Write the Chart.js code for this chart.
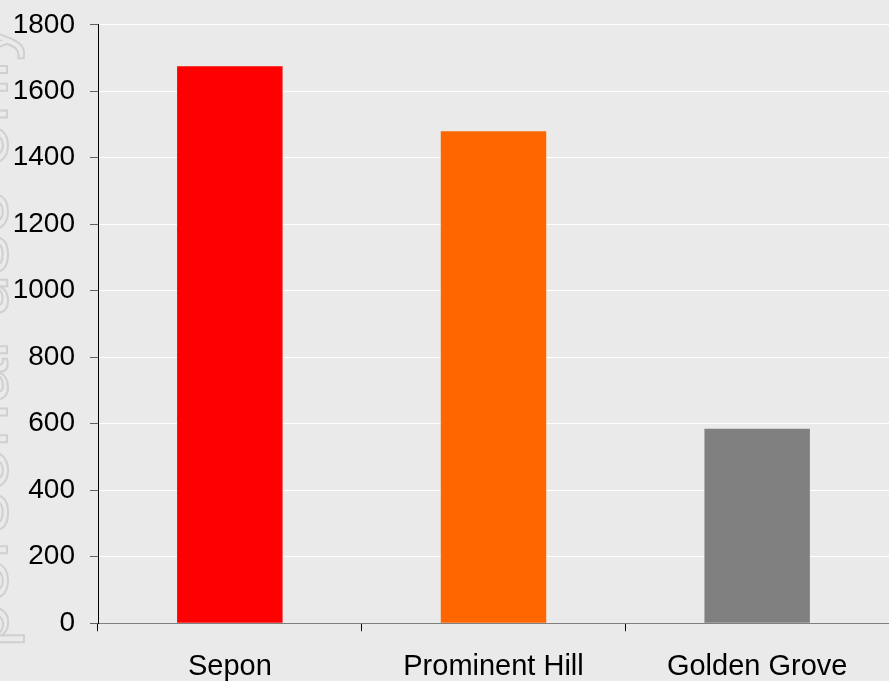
<!DOCTYPE html>
<html>
<head>
<meta charset="utf-8">
<script src="https://cdn.jsdelivr.net/npm/chart.js@4/dist/chart.umd.min.js"></script>
<style>
  html, body { margin: 0; padding: 0; background: #eaeaea; }
  #wrap { width: 889px; height: 681px; }
</style>
</head>
<body>
<div id="wrap"><canvas id="chart" width="889" height="681"></canvas></div>
<script>
// chart data
const categories = ['Sepon', 'Prominent Hill', 'Golden Grove'];
const values = [1675, 1480, 585];
const barColors = ['#ff0000', '#ff6600', '#808080'];
const watermark = 'For personal use only';

const fontFamily = '"Liberation Sans", Arial, sans-serif';

// background and faint outlined watermark on the left edge
const backdrop = {
    id: 'backdrop',
    beforeDraw(chart) {
        const ctx = chart.ctx;
        ctx.save();
        ctx.fillStyle = '#eaeaea';
        ctx.fillRect(0, 0, chart.width, chart.height);
        ctx.translate(7, 790);
        ctx.rotate(-Math.PI / 2);
        ctx.font = '80px ' + fontFamily;
        ctx.strokeStyle = '#d0d0d0';
        ctx.lineWidth = 2;
        ctx.strokeText(watermark, 0, 0);
        ctx.restore();
    }
};

new Chart(document.getElementById('chart'), {
    type: 'bar',
    data: {
        labels: categories,
        datasets: [{
            data: values,
            backgroundColor: barColors,
            borderWidth: 0,
            barPercentage: 0.4,
            categoryPercentage: 1.0
        }]
    },
    options: {
        responsive: false,
        animation: false,
        layout: { padding: { top: 0, right: 0, left: 0, bottom: -21 } },
        plugins: {
            legend: { display: false },
            tooltip: { enabled: false }
        },
        scales: {
            x: {
                grid: {
                    offset: true,
                    drawOnChartArea: false,
                    tickLength: 8,
                    tickColor: '#000000'
                },
                border: { color: '#808080', width: 1 },
                ticks: {
                    color: '#000000',
                    padding: 18,
                    font: { family: fontFamily, size: 29 }
                }
            },
            y: {
                min: 0,
                max: 1800,
                afterFit(scale) { scale.width = 98; },
                grid: {
                    color: '#ffffff',
                    lineWidth: 1,
                    tickLength: 8,
                    tickColor: '#606060'
                },
                border: { color: '#000000', width: 1 },
                ticks: {
                    stepSize: 200,
                    color: '#000000',
                    padding: 15,
                    font: { family: fontFamily, size: 28, lineHeight: 0.7 },
                    callback: v => String(v)
                }
            }
        }
    },
    plugins: [backdrop]
});
</script>
</body>
</html>
